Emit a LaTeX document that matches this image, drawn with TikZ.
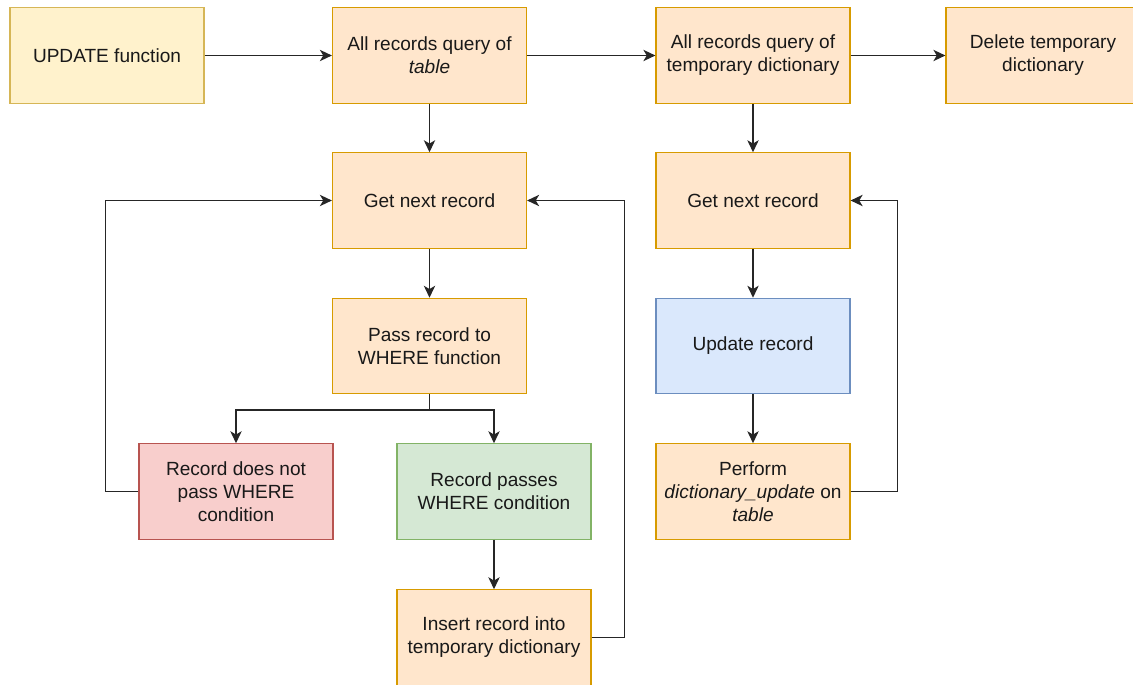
\documentclass[tikz,border=0pt]{standalone}
\usepackage{fontspec}
\setmainfont{Liberation Sans}
\usetikzlibrary{arrows.meta,positioning}
\definecolor{orfill}{HTML}{FFE6CC}\definecolor{ordraw}{HTML}{D79B00}
\definecolor{yefill}{HTML}{FFF2CC}\definecolor{yedraw}{HTML}{D6B656}
\definecolor{refill}{HTML}{F8CECC}\definecolor{redraw}{HTML}{B85450}
\definecolor{grfill}{HTML}{D5E8D4}\definecolor{grdraw}{HTML}{82B366}
\definecolor{blfill}{HTML}{DAE8FC}\definecolor{bldraw}{HTML}{6C8EBF}
\tikzset{
  box/.style={rectangle, line width=0.9pt, minimum width=145.5pt, minimum height=71.5pt,
    align=center, inner sep=2pt, font=\fontsize{14.3}{17.25}\selectfont, text=black!90},
  orbox/.style={box, fill=orfill, draw=ordraw},
  yebox/.style={box, fill=yefill, draw=yedraw},
  rebox/.style={box, fill=refill, draw=redraw},
  grbox/.style={box, fill=grfill, draw=grdraw},
  blbox/.style={box, fill=blfill, draw=bldraw},
  arr/.style={line width=1pt, draw=black!85, -{Stealth[length=9pt,width=8.5pt,inset=2.5pt]}},
  ln/.style={line width=1pt, draw=black!85}
}
\begin{document}
\begin{tikzpicture}[x=0.75pt,y=-0.75pt]
\useasboundingbox (0,0) rectangle (1133,685);
\begin{scope}
\clip (0,0) rectangle (1133,685);
\node[yebox] (upd) at (107,55.5) {UPDATE function};
\node[orbox] (q1) at (429.5,55.5) {All records query of\\\textit{table}};
\node[orbox] (q2) at (753,55.5) {All records query of\\temporary dictionary};
\node[orbox] (del) at (1043,55.5) {Delete temporary\\dictionary};
\node[orbox] (g1) at (429.5,200.5) {Get next record};
\node[orbox] (g2) at (753,200.5) {Get next record};
\node[orbox] (pass) at (429.5,346) {Pass record to\\WHERE function};
\node[blbox] (updrec) at (753,346) {Update record};
\node[rebox] (fail) at (236,491.5) {Record does not\\pass WHERE\\condition};
\node[grbox] (ok) at (494,491.5) {Record passes\\WHERE condition};
\node[orbox] (perf) at (753,491.5) {Perform\\\textit{dictionary\_update} on\\\textit{table}};
\node[orbox] (ins) at (494,637.5) {Insert record into\\temporary dictionary};
\end{scope}
\draw[arr] (upd.east) -- (q1.west);
\draw[arr] (q1.east) -- (q2.west);
\draw[arr] (q2.east) -- (del.west);
\draw[arr] (q1.south) -- (g1.north);
\draw[arr] (g1.south) -- (pass.north);
\draw[arr] (q2.south) -- (g2.north);
\draw[arr] (g2.south) -- (updrec.north);
\draw[arr] (updrec.south) -- (perf.north);
\coordinate (sp) at (429.5,410);
\draw[ln] (pass.south) -- (sp);
\draw[arr] (sp) -| (fail.north);
\draw[arr] (sp) -| (ok.north);
\draw[arr] (ok.south) -- (ins.north);
\draw[arr] (fail.west) -- ++(-33,0) |- (g1.west);
\draw[arr] (ins.east) -- ++(33,0) |- (g1.east);
\draw[arr] (perf.east) -- ++(47,0) |- (g2.east);
\end{tikzpicture}
\end{document}
